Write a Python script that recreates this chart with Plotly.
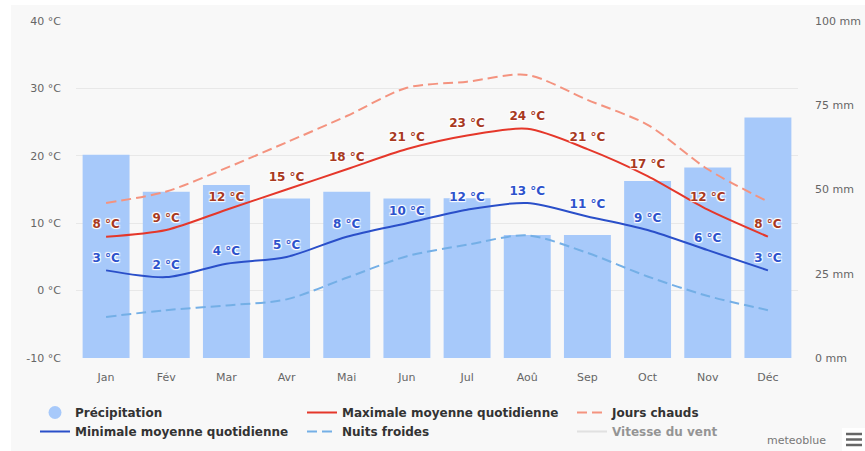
import plotly.graph_objects as go

months = ["Jan", "Fév", "Mar", "Avr", "Mai", "Jun", "Jul", "Aoû", "Sep", "Oct", "Nov", "Déc"]
precip_mm = [60.3, 49.3, 51.3, 47.3, 49.3, 47.3, 47.4, 36.5, 36.5, 52.5, 56.5, 71.4]
max_mean = [8, 9, 12, 15, 18, 21, 23, 24, 21, 17, 12, 8]
min_mean = [3, 2, 4, 5, 8, 10, 12, 13, 11, 9, 6, 3]
hot_days = [13.0, 14.7, 18.2, 22.0, 25.9, 30.1, 31.0, 32.0, 28.3, 24.6, 18.0, 13.2]
cold_nights = [-3.9, -2.9, -2.2, -1.3, 1.9, 5.1, 6.8, 8.2, 5.6, 2.1, -0.8, -2.9]
temp_ticks = [-10, 0, 10, 20, 30, 40]
mm_ticks = [0, 25, 50, 75, 100]

FONT = "DejaVu Sans"
BAR = "#a7c9fa"
RED = "#e5372a"
BLUE = "#2a4fc9"
HOT = "#f4937f"
COLD = "#74afe6"
RED_LBL = "#a8391f"
BLUE_LBL = "#2d52cc"
SHADOW = "1px 1px 1px #ffffff, -1px -1px 1px #ffffff, 1px -1px 1px #ffffff, -1px 1px 1px #ffffff"
GHOST = dict(size=7, color="rgba(0,0,0,0)")

fig = go.Figure()

fig.add_trace(go.Bar(
    x=months, y=precip_mm, yaxis="y", marker=dict(color=BAR, line=dict(width=0)),
    showlegend=False, name="Précipitation", hoverinfo="skip"))

# legend-only entry with round symbol
fig.add_trace(go.Scatter(
    x=[None], y=[None], mode="markers", yaxis="y", name="Précipitation",
    marker=dict(symbol="circle", size=13, color=BAR), legend="legend", legendrank=1))

fig.add_trace(go.Scatter(
    x=months, y=max_mean, yaxis="y2", mode="lines+markers+text", name="Maximale moyenne quotidienne",
    line=dict(color=RED, width=2, shape="spline", smoothing=0.8), marker=GHOST,
    text=[f"{v} °C" for v in max_mean], textposition="top center",
    textfont=dict(family=FONT, size=12, color=RED_LBL, weight="bold", shadow=SHADOW),
    legend="legend2", legendrank=1))

fig.add_trace(go.Scatter(
    x=months, y=hot_days, yaxis="y2", mode="lines", name="Jours chauds",
    line=dict(color=HOT, width=2, dash="10px,5px", shape="spline", smoothing=0.8),
    legend="legend3", legendrank=1))

fig.add_trace(go.Scatter(
    x=months, y=min_mean, yaxis="y2", mode="lines+markers+text", name="Minimale moyenne quotidienne",
    line=dict(color=BLUE, width=2, shape="spline", smoothing=0.8), marker=GHOST,
    text=[f"{v} °C" for v in min_mean], textposition="top center",
    textfont=dict(family=FONT, size=12, color=BLUE_LBL, weight="bold", shadow=SHADOW),
    legend="legend", legendrank=2))

fig.add_trace(go.Scatter(
    x=months, y=cold_nights, yaxis="y2", mode="lines", name="Nuits froides",
    line=dict(color=COLD, width=2, dash="10px,5px", shape="spline", smoothing=0.8),
    legend="legend2", legendrank=2))

fig.add_trace(go.Scatter(
    x=[None], y=[None], yaxis="y2", mode="lines", name="Vitesse du vent",
    line=dict(color="#cccccc", width=2), visible="legendonly",
    legend="legend3", legendrank=2))

L, R, T, B = 76, 67, 21, 93
W, H = 865, 451
pw, ph = W - L - R, H - T - B
LEG_TOP = 398


def px_x(px):
    return (px - L) / pw


def px_y(py):
    return (H - B - py) / ph


def legend_at(px):
    return dict(orientation="v", x=px_x(px), xanchor="left",
                y=px_y(LEG_TOP), yanchor="top",
                font=dict(family=FONT, size=12, color="#333333", weight="bold"),
                bgcolor="rgba(0,0,0,0)", itemclick=False, tracegroupgap=0,
                traceorder="normal")


shapes = [
    dict(type="rect", xref="paper", yref="paper",
         x0=px_x(11), x1=px_x(W), y0=px_y(H), y1=px_y(5),
         fillcolor="#f8f8f8", line=dict(width=0), layer="below"),
    # menu button (hamburger)
    dict(type="rect", xref="paper", yref="paper",
         x0=px_x(842), x1=px_x(W), y0=px_y(H), y1=px_y(428),
         fillcolor="#ffffff", line=dict(width=0), layer="above"),
]
for yy in (434, 439.5, 445):
    shapes.append(dict(type="line", xref="paper", yref="paper",
                       x0=px_x(846), x1=px_x(862), y0=px_y(yy), y1=px_y(yy),
                       line=dict(color="#666666", width=2.5), layer="above"))

fig.update_layout(
    width=W, height=H,
    margin=dict(l=L, r=R, t=T, b=B, pad=0, autoexpand=False),
    paper_bgcolor="#ffffff", plot_bgcolor="#f8f8f8",
    font=dict(family=FONT, color="#666666", size=11),
    bargap=0.22,
    hovermode=False,
    xaxis=dict(type="category", range=[-0.5, 11.5], showgrid=False, zeroline=False,
               showline=False, ticks="", tickfont=dict(size=11, color="#666666"),
               ticklabelstandoff=11, automargin=False),
    yaxis=dict(side="right", range=[0, 100], tickmode="array", tickvals=mm_ticks,
               ticktext=[f"{v} mm" for v in mm_ticks], showgrid=False, zeroline=False,
               ticks="", tickfont=dict(size=11, color="#666666"), ticklabelstandoff=16,
               automargin=False,
               minor=dict(tickmode="array", tickvals=[0, 20, 40, 60, 80, 100],
                          showgrid=True, gridcolor="#e8e8e8", gridwidth=1, ticks="")),
    yaxis2=dict(side="left", overlaying="y", range=[-10, 40], tickmode="array",
                tickvals=temp_ticks, ticktext=[f"{v} °C" for v in temp_ticks],
                showgrid=False, zeroline=False, ticks="", automargin=False,
                tickfont=dict(size=11, color="#666666"), ticklabelstandoff=14),
    legend=legend_at(35),
    legend2=legend_at(302),
    legend3=legend_at(572),
    showlegend=True,
    shapes=shapes,
    annotations=[
        dict(text="meteoblue", xref="paper", yref="paper", x=px_x(828), y=px_y(440),
             xanchor="right", yanchor="middle", showarrow=False,
             font=dict(family=FONT, size=11, color="#777777")),
    ],
)

fig.write_html("out.html", config={"displayModeBar": False},
               post_script="document.body.style.margin='0';")
